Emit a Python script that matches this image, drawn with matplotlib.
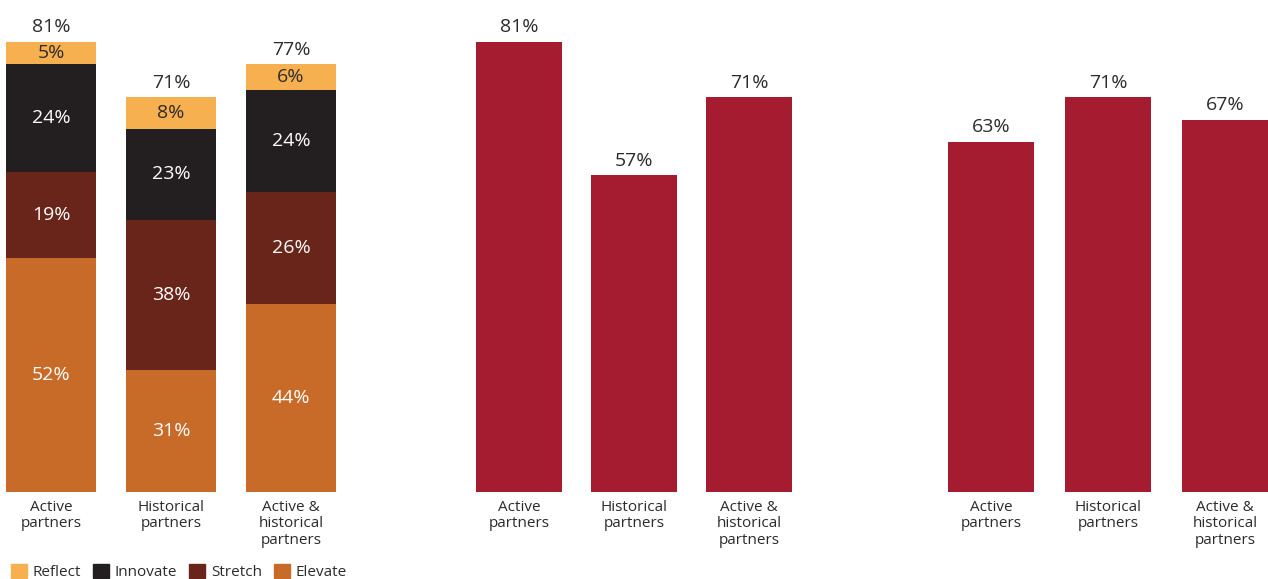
import matplotlib.pyplot as plt
from matplotlib.patches import Patch

plt.rcParams.update({
    "font.family": ["Open Sans", "DejaVu Sans"],
})

categories = ["Active\npartners", "Historical\npartners", "Active &\nhistorical\npartners"]

# left panel: totals and the share of each level within the total
stack_totals = [81, 71, 77]
levels = ["Elevate", "Stretch", "Innovate", "Reflect"]
elevate = [52, 31, 44]
stretch = [19, 38, 26]
innovate = [24, 23, 24]
reflect = [5, 8, 6]

middle_values = [81, 57, 71]
right_values = [63, 71, 67]

level_colors = {"Reflect": "#F6B050", "Innovate": "#231F20",
                "Stretch": "#692519", "Elevate": "#C96B28"}
level_text = {"Reflect": "#2b2b2b", "Innovate": "white",
              "Stretch": "white", "Elevate": "white"}
red = "#A51B2F"
text_col = "#2b2b2b"
val_size = 14
tick_size = 11

fig = plt.figure(figsize=(12.68, 5.79), dpi=100)
W, H = 1268, 579
base_px = 492
top_px = 3
ymax = 88

def make_ax(x0, x1, xlim):
    ax = fig.add_axes([x0 / W, (H - base_px) / H, (x1 - x0) / W, (base_px - top_px) / H])
    ax.set_xlim(*xlim)
    ax.set_ylim(0, ymax)
    for s in ax.spines.values():
        s.set_visible(False)
    ax.set_yticks([])
    ax.set_xticks(range(len(categories)))
    ax.set_xticklabels(categories, fontsize=tick_size, color=text_col, linespacing=1.1)
    ax.tick_params(axis="x", length=0, pad=6)
    return ax

# left stacked panel
ax1 = make_ax(0, 340, (-0.425, 2.408))
series = {"Elevate": elevate, "Stretch": stretch, "Innovate": innovate, "Reflect": reflect}
bottoms = [0.0, 0.0, 0.0]
for lvl in levels:
    vals = series[lvl]
    heights = [t * v / 100 for t, v in zip(stack_totals, vals)]
    ax1.bar(range(3), heights, bottom=bottoms, width=0.75, color=level_colors[lvl])
    for i, (h, b, v) in enumerate(zip(heights, bottoms, vals)):
        ax1.text(i, b + h / 2, f"{v}%", ha="center", va="center",
                 fontsize=val_size, color=level_text[lvl])
    bottoms = [b + h for b, h in zip(bottoms, heights)]
for i, t in enumerate(stack_totals):
    ax1.text(i, t + 1.0, f"{t}%", ha="center", va="bottom", fontsize=val_size, color=text_col)

# middle panel
ax2 = make_ax(460, 800, (-0.513, 2.443))
ax2.bar(range(3), middle_values, width=0.75, color=red)
for i, v in enumerate(middle_values):
    ax2.text(i, v + 1.0, f"{v}%", ha="center", va="bottom", fontsize=val_size, color=text_col)

# right panel
ax3 = make_ax(930, 1268, (-0.521, 2.368))
ax3.bar(range(3), right_values, width=0.74, color=red)
for i, v in enumerate(right_values):
    ax3.text(i, v + 1.0, f"{v}%", ha="center", va="bottom", fontsize=val_size, color=text_col)

handles = [Patch(color=level_colors[l], label=l) for l in ["Reflect", "Innovate", "Stretch", "Elevate"]]
fig.legend(handles=handles, loc="center left", bbox_to_anchor=(-0.002, 0.012), ncol=4,
           frameon=False, fontsize=tick_size, handlelength=1.05, handleheight=1.05,
           handletextpad=0.35, columnspacing=0.8, labelcolor=text_col)

fig.savefig("out.png", dpi=100)
